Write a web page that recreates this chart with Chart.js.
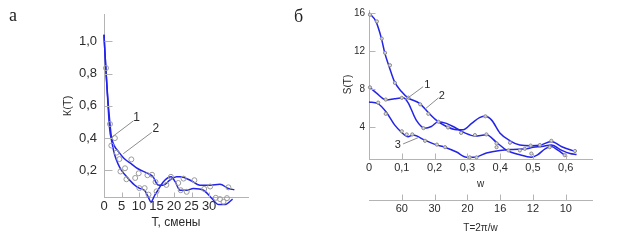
<!DOCTYPE html>
<html><head><meta charset="utf-8">
<script src="https://cdn.jsdelivr.net/npm/chart.js@4.4.0/dist/chart.umd.min.js"></script>
<style>
html,body{margin:0;padding:0;background:#fff;width:624px;height:251px;overflow:hidden;}
#wrap{position:relative;width:624px;height:251px;}
canvas{position:absolute;top:0;}
#ca{left:0;} #cb{left:310px;}
.pl{position:absolute;font-family:'Liberation Serif','DejaVu Serif',serif;font-size:18px;color:#222;line-height:1;}
</style></head>
<body><div id="wrap">
<canvas id="ca" width="300" height="251"></canvas>
<canvas id="cb" width="314" height="251"></canvas>
<div class="pl" style="left:9px;top:6px">а</div>
<div class="pl" style="left:294px;top:7px">б</div>
</div>
<script>
// ---------- Panel а : K(T) ----------
const aT1 = [0, 0.5, 1.0, 1.6, 2.2, 3.0, 4.0, 5.0, 6.9, 8.8, 10.2, 11.6, 12.6, 13.4, 14.5, 15.4, 16.9, 19.2, 20.3, 21.7, 23.6, 25.5, 28.4, 30.8, 32.7, 34.6, 36.7];
const aK1 = [1.04, 0.84, 0.66, 0.46, 0.38, 0.30, 0.24, 0.20, 0.15, 0.108, 0.088, 0.075, 0.036, 0.005, 0.047, 0.077, 0.128, 0.16, 0.13, 0.077, 0.077, 0.088, 0.077, 0.026, -0.012, -0.012, 0.022];
const aT2 = [0, 0.5, 1.0, 1.7, 2.1, 3.0, 4.0, 5.9, 7.8, 9.7, 12.6, 14.0, 15.4, 16.9, 18.8, 20.7, 21.7, 24.6, 27.4, 30.3, 33.1, 35.5, 37.2];
const aK2 = [1.04, 0.84, 0.67, 0.49, 0.41, 0.35, 0.32, 0.27, 0.24, 0.21, 0.18, 0.16, 0.11, 0.108, 0.139, 0.16, 0.16, 0.139, 0.108, 0.108, 0.114, 0.088, 0.08];
const aObsT = [0.57, 1.7, 3.1, 2.1, 3.6, 4.4, 4.7, 6.0, 6.4, 7.8, 8.9, 9.9, 10.1, 11.6, 12.4, 13.7, 12.7, 14.7, 15.0, 17.8, 19.1, 21.2, 22.7, 21.9, 23.6, 25.8, 28.6, 30.3, 31.9, 33.1, 34.1, 35.5, 35.1];
const aObsK = [0.834, 0.487, 0.40, 0.354, 0.31, 0.27, 0.193, 0.213, 0.145, 0.268, 0.153, 0.182, 0.09, 0.09, 0.17, 0.173, 0.05, 0.128, 0.07, 0.11, 0.16, 0.122, 0.149, 0.077, 0.067, 0.139, 0.085, 0.1, 0.03, 0.022, 0.005, 0.095, 0.028];
const aXTicks = [0, 5, 10, 15, 20, 25, 30];
const aYTicks = [0.2, 0.4, 0.6, 0.8, 1.0];
const aNoteText = ['1', '2'];
const aNoteX = [9.3, 14.8];
const aNoteY = [0.527, 0.456];
const aLeaders = [[8.4, 0.507, 2.2, 0.405], [13.6, 0.435, 5.5, 0.303]];

// ---------- Panel б : S(T) ----------
const bW1 = [0, 0.021, 0.038, 0.048, 0.061, 0.078, 0.099, 0.119, 0.155, 0.18, 0.205, 0.236, 0.267, 0.287, 0.313, 0.337, 0.355, 0.374, 0.399, 0.43, 0.46, 0.495, 0.521, 0.556, 0.588, 0.629];
const bS1 = [16.0, 15.1, 13.3, 11.8, 10.4, 8.75, 7.75, 7.08, 6.48, 5.57, 4.74, 4.07, 3.74, 3.74, 4.4, 5.0, 5.14, 4.74, 3.4, 2.57, 2.13, 2.06, 2.1, 2.5, 1.95, 1.45];
const bW2 = [0, 0.023, 0.053, 0.078, 0.104, 0.119, 0.144, 0.17, 0.19, 0.211, 0.236, 0.262, 0.292, 0.323, 0.358, 0.389, 0.419, 0.46, 0.495, 0.514, 0.537, 0.556, 0.577, 0.597, 0.604];
const bS2 = [8.25, 7.58, 6.85, 6.98, 7.08, 6.58, 4.74, 3.9, 4.07, 4.57, 4.4, 3.97, 3.4, 3.07, 3.2, 2.4, 1.6, 1.1, 0.85, 1.1, 1.73, 1.97, 1.56, 1.06, 0.9];
const bW3 = [0, 0.027, 0.053, 0.078, 0.099, 0.119, 0.134, 0.17, 0.205, 0.231, 0.267, 0.297, 0.323, 0.358, 0.399, 0.44, 0.481, 0.5, 0.527, 0.556, 0.588, 0.613, 0.633];
const bS3 = [6.65, 6.48, 5.57, 4.24, 3.47, 3.0, 3.17, 2.64, 2.14, 1.9, 1.39, 0.85, 0.85, 1.3, 1.56, 1.66, 1.73, 1.9, 1.97, 2.13, 1.56, 1.23, 1.13];
const bDotW = [0.003, 0.024, 0.039, 0.049, 0.064, 0.079, 0.003, 0.051, 0.1, 0.12, 0.156, 0.181, 0.166, 0.212, 0.028, 0.051, 0.1, 0.115, 0.132, 0.171, 0.207, 0.232, 0.241, 0.281, 0.323, 0.358, 0.355, 0.389, 0.425, 0.389, 0.307, 0.328, 0.43, 0.46, 0.475, 0.493, 0.521, 0.495, 0.556, 0.551, 0.597, 0.628];
const bDotS = [15.8, 15.1, 13.3, 11.8, 10.5, 8.65, 8.18, 6.9, 7.08, 7.1, 6.4, 5.4, 3.9, 4.57, 6.58, 5.4, 3.57, 3.24, 3.24, 2.57, 2.17, 1.9, 3.97, 3.4, 3.17, 3.24, 5.14, 2.3, 1.56, 1.9, 0.83, 0.83, 2.37, 1.56, 1.73, 2.07, 2.13, 1.23, 2.57, 1.9, 1.06, 1.5];
const bXTicks = [0, 0.1, 0.2, 0.3, 0.4, 0.5, 0.6];
const bYTicks = [4, 8, 12, 16];
const bPeriodTicks = [0.1, 0.2, 0.3, 0.4, 0.5, 0.6];
const bPeriodLabels = ['60', '30', '20', '16', '12', '10'];
const bNoteText = ['1', '2', '3'];
const bNoteX = [0.178, 0.222, 0.088];
const bNoteY = [8.41, 7.25, 2.17];
const bLeaders = [[0.165, 8.25, 0.11, 6.85], [0.212, 7.08, 0.171, 5.9], [0.104, 2.24, 0.15, 2.9]];

// ---------- styling ----------
const BLUE = '#2424e8';
const AX = '#b4b4b4';
const TXT = '#2b2b2b';
const NARROW = "'Liberation Sans Narrow','Liberation Sans',Arial,sans-serif";
const SANS = "'Liberation Sans',Arial,sans-serif";

const pts = (xs, ys) => xs.map((x, i) => ({x: x, y: ys[i]}));
const fixTicks = vals => (s => { s.ticks = vals.map(v => ({value: v})); });

const innerTicks = {
  id: 'innerTicks',
  afterDraw(chart, args, opts) {
    const ctx = chart.ctx;
    ctx.save();
    ctx.strokeStyle = AX; ctx.lineWidth = 1;
    Object.keys(chart.scales).forEach(id => {
      const s = chart.scales[id];
      const len = opts.len[id];
      if (!len) return;
      s.ticks.forEach(t => {
        if (Math.abs(t.value - s.min) < 1e-9) return;
        const p = Math.round(s.getPixelForValue(t.value)) + 0.5;
        ctx.beginPath();
        if (s.isHorizontal()) { const y0 = Math.round(s.top) + 0.5; ctx.moveTo(p, y0); ctx.lineTo(p, y0 - len); }
        else { const x0 = Math.round(s.right) + 0.5; ctx.moveTo(x0, p); ctx.lineTo(x0 + len, p); }
        ctx.stroke();
      });
    });
    ctx.restore();
  }
};

const notes = {
  id: 'notes',
  afterDatasetsDraw(chart, args, o) {
    const xs = chart.scales.x, ys = chart.scales.y, ctx = chart.ctx;
    ctx.save();
    ctx.strokeStyle = '#8c8c8c'; ctx.lineWidth = 1;
    o.leaders.forEach(L => {
      ctx.beginPath();
      ctx.moveTo(xs.getPixelForValue(L[0]), ys.getPixelForValue(L[1]));
      ctx.lineTo(xs.getPixelForValue(L[2]), ys.getPixelForValue(L[3]));
      ctx.stroke();
    });
    ctx.fillStyle = TXT; ctx.font = o.font; ctx.textAlign = 'center'; ctx.textBaseline = 'middle';
    o.text.forEach((t, i) => ctx.fillText(t, xs.getPixelForValue(o.x[i]), ys.getPixelForValue(o.y[i])));
    ctx.restore();
  }
};

const lineDs = (xs, ys) => ({
  data: pts(xs, ys), borderColor: BLUE, borderWidth: 1.5, pointRadius: 0,
  cubicInterpolationMode: 'monotone', fill: false, clip: false, order: 2
});

// ---------- chart а ----------
new Chart(document.getElementById('ca'), {
  type: 'line',
  data: { datasets: [
    lineDs(aT1, aK1),
    lineDs(aT2, aK2),
    { type: 'scatter', data: pts(aObsT, aObsK), pointRadius: 2.5, pointBorderWidth: 1,
      borderColor: '#9a9a9a', backgroundColor: 'rgba(255,255,255,0)', showLine: false, clip: false, order: 1 }
  ]},
  options: {
    responsive: false, animation: false, devicePixelRatio: 1,
    layout: { padding: { left: 0, top: 13, right: 52, bottom: 21 } },
    plugins: {
      legend: { display: false }, tooltip: { enabled: false },
      innerTicks: { len: { x: 5, y: 8 } },
      notes: { text: aNoteText, x: aNoteX, y: aNoteY, leaders: aLeaders, font: '12px ' + SANS }
    },
    scales: {
      x: {
        type: 'linear', min: 0, max: 41.1,
        afterBuildTicks: fixTicks(aXTicks), afterFit: s => { s.height = 33; },
        grid: { display: false, drawTicks: false }, border: { color: AX, width: 1 },
        ticks: { padding: 2, color: TXT, autoSkip: false, maxRotation: 0, font: { family: NARROW, size: 13 }, callback: v => String(v) },
        title: { display: true, text: 'Т, смены', color: TXT, font: { family: SANS, size: 12 }, padding: { top: 0, bottom: 0 } }
      },
      y: {
        type: 'linear', min: 0.035, max: 1.164,
        afterBuildTicks: fixTicks(aYTicks), afterFit: s => { s.width = 104; },
        grid: { display: false, drawTicks: false }, border: { color: AX, width: 1 },
        ticks: { padding: 7, color: TXT, autoSkip: false, font: { family: NARROW, size: 13 }, callback: v => v.toFixed(1).replace('.', ',') },
        title: { display: true, text: 'К(Т)', color: TXT, font: { family: SANS, size: 11 }, padding: { top: 61, bottom: 0 } }
      }
    }
  },
  plugins: [innerTicks, notes]
});

// ---------- chart б ----------
new Chart(document.getElementById('cb'), {
  type: 'line',
  data: { datasets: [
    lineDs(bW1, bS1),
    lineDs(bW2, bS2),
    lineDs(bW3, bS3),
    { type: 'scatter', data: pts(bDotW, bDotS), pointRadius: 1.6, pointBorderWidth: 1,
      borderColor: '#8a8a8a', backgroundColor: 'rgba(220,220,220,0.9)', showLine: false, clip: false, order: 1 }
  ]},
  options: {
    responsive: false, animation: false, devicePixelRatio: 1,
    layout: { padding: { left: 0, top: 3, right: 32, bottom: 17 } },
    plugins: {
      legend: { display: false }, tooltip: { enabled: false },
      innerTicks: { len: { x: 6, y: 6, x2: 6 } },
      notes: { text: bNoteText, x: bNoteX, y: bNoteY, leaders: bLeaders, font: '11px ' + SANS }
    },
    scales: {
      x: {
        type: 'linear', position: 'bottom', weight: 0, min: 0, max: 0.68,
        afterBuildTicks: fixTicks(bXTicks), afterFit: s => { s.height = 41; },
        grid: { display: false, drawTicks: false }, border: { color: AX, width: 1 },
        ticks: { padding: 2, color: TXT, autoSkip: false, maxRotation: 0, font: { family: NARROW, size: 11 },
                 callback: v => (v === 0 ? '0' : v.toFixed(1).replace('.', ',')) },
        title: { display: true, text: 'w', color: TXT, font: { family: SANS, size: 10 }, padding: { top: 0, bottom: 10 } }
      },
      x2: {
        type: 'linear', position: 'bottom', weight: 1, min: 0, max: 0.68,
        afterBuildTicks: fixTicks(bPeriodTicks), afterFit: s => { s.height = 34; },
        grid: { display: false, drawTicks: false }, border: { color: AX, width: 1 },
        ticks: { padding: 2, color: TXT, autoSkip: false, maxRotation: 0, font: { family: NARROW, size: 11 },
                 callback: (v, i) => bPeriodLabels[i] },
        title: { display: true, text: 'T=2π/w', color: TXT, font: { family: SANS, size: 10 }, padding: { top: 0, bottom: 0 } }
      },
      y: {
        type: 'linear', min: 0.66, max: 16.3,
        afterBuildTicks: fixTicks(bYTicks), afterFit: s => { s.width = 59; },
        grid: { display: false, drawTicks: false }, border: { color: AX, width: 1 },
        ticks: { padding: 4, color: TXT, autoSkip: false, font: { family: NARROW, size: 10 }, callback: v => String(v) },
        title: { display: true, text: 'S(T)', color: TXT, font: { family: SANS, size: 10 }, padding: { top: 32, bottom: 0 } }
      }
    }
  },
  plugins: [innerTicks, notes]
});
</script>
</body></html>
